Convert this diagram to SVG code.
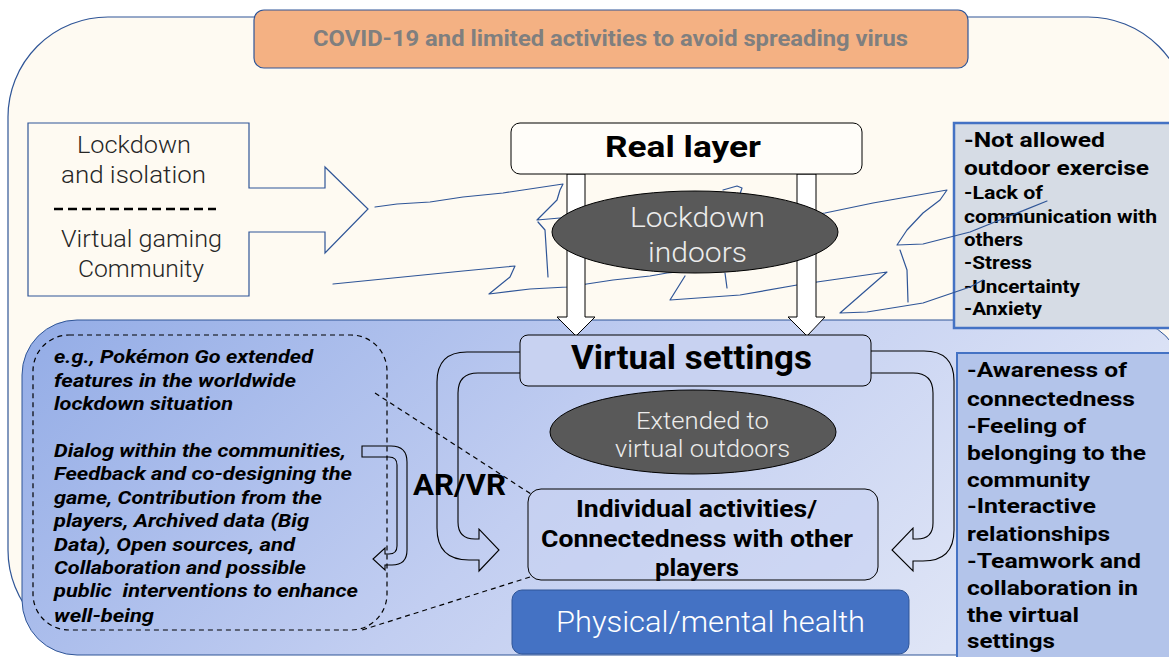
<svg xmlns="http://www.w3.org/2000/svg" width="1169" height="657" viewBox="0 0 1169 657">
<style>
text{font-family:Roboto,"Noto Sans CJK JP",sans-serif;}
.b{font-weight:700;fill:#000;}
.l{font-weight:300;}
.it{font-weight:700;font-style:italic;fill:#000;font-size:19px;}
.c{text-anchor:middle;}
.scr{fill:none;stroke:#2f5597;stroke-width:1.2;stroke-linejoin:round;stroke-linecap:round;}
.blk{fill:#fff;stroke:#000;stroke-width:1;}
.uarr{fill:none;stroke:#000;stroke-width:1.1;}
.dash{fill:none;stroke:#000;stroke-width:1.2;stroke-dasharray:5,4;}
.box{stroke:#000;stroke-width:1;}
</style>
<defs>
<linearGradient id="blueGrad" x1="0" y1="0" x2="1" y2="0.3">
<stop offset="0" stop-color="#93ace6"/>
<stop offset="0.55" stop-color="#c2cef1"/>
<stop offset="1" stop-color="#dfe5f6"/>
</linearGradient>
</defs>
<g id="background">
<rect x="8" y="17" width="1180" height="633" rx="100" ry="100" fill="#fefaf2" stroke="#2f5597" stroke-width="1.2"/>
<rect x="22" y="320" width="1160" height="335" rx="55" ry="55" fill="url(#blueGrad)" stroke="#2f5597" stroke-width="1"/>
</g>
<g id="banner">
<rect x="254" y="10" width="714" height="58" rx="10" fill="#f4b183" stroke="#2f5597" stroke-width="1.2"/>
<text x="610.5" y="46" class="c" font-size="22" font-weight="700" fill="#7f7f7f" textLength="595" lengthAdjust="spacingAndGlyphs">COVID-19 and limited activities to avoid spreading virus</text>
</g>
<g id="left-box">
<path d="M28,123 L249,123 L249,188 L325,188 L325,167 L368,209 L325,253 L325,232 L249,232 L249,296 L28,296 Z" fill="#fefaf2" stroke="#2f5597" stroke-width="1.2"/>
<text class="l c" x="134" y="153" font-size="23" fill="#262626" textLength="114" lengthAdjust="spacingAndGlyphs">Lockdown</text>
<text class="l c" x="133.5" y="183" font-size="23" fill="#262626" textLength="145" lengthAdjust="spacingAndGlyphs">and isolation</text>
<line x1="54" y1="209" x2="216" y2="209" stroke="#000" stroke-width="2.5" stroke-dasharray="9,5"/>
<text class="l c" x="141.5" y="247" font-size="23" fill="#262626" textLength="161" lengthAdjust="spacingAndGlyphs">Virtual gaming</text>
<text class="l c" x="141" y="277" font-size="23" fill="#262626" textLength="126" lengthAdjust="spacingAndGlyphs">Community</text>
</g>
<g id="right-top-box">
<rect x="954" y="123" width="230" height="205" fill="#d6dce5" stroke="#4472c4" stroke-width="2.5"/>
<text class="b" x="964" y="147" font-size="20" textLength="141" lengthAdjust="spacingAndGlyphs">-Not allowed</text>
<text class="b" x="964" y="175" font-size="20" textLength="185" lengthAdjust="spacingAndGlyphs">outdoor exercise</text>
<text class="b" x="964" y="199" font-size="18" textLength="79" lengthAdjust="spacingAndGlyphs">-Lack of</text>
<text class="b" x="964" y="223" font-size="18" textLength="193" lengthAdjust="spacingAndGlyphs">communication with</text>
<text class="b" x="964" y="246" font-size="18" textLength="59" lengthAdjust="spacingAndGlyphs">others</text>
<text class="b" x="964" y="269" font-size="18" textLength="68" lengthAdjust="spacingAndGlyphs">-Stress</text>
<text class="b" x="964" y="293" font-size="18" textLength="116" lengthAdjust="spacingAndGlyphs">-Uncertainty</text>
<text class="b" x="964" y="315" font-size="18" textLength="78" lengthAdjust="spacingAndGlyphs">-Anxiety</text>
</g>
<g id="right-bottom-box">
<rect x="957" y="353" width="230" height="310" fill="#b3c4ea" stroke="#4472c4" stroke-width="2"/>
<text class="b" x="967" y="377" font-size="20" textLength="160" lengthAdjust="spacingAndGlyphs">-Awareness of</text>
<text class="b" x="967" y="406" font-size="20" textLength="168" lengthAdjust="spacingAndGlyphs">connectedness</text>
<text class="b" x="967" y="433" font-size="20" textLength="119" lengthAdjust="spacingAndGlyphs">-Feeling of</text>
<text class="b" x="967" y="460" font-size="20" textLength="179" lengthAdjust="spacingAndGlyphs">belonging to the</text>
<text class="b" x="967" y="487" font-size="20" textLength="123" lengthAdjust="spacingAndGlyphs">community</text>
<text class="b" x="967" y="513" font-size="20" textLength="129" lengthAdjust="spacingAndGlyphs">-Interactive</text>
<text class="b" x="967" y="541" font-size="20" textLength="143" lengthAdjust="spacingAndGlyphs">relationships</text>
<text class="b" x="967" y="568" font-size="20" textLength="174" lengthAdjust="spacingAndGlyphs">-Teamwork and</text>
<text class="b" x="967" y="595" font-size="20" textLength="171" lengthAdjust="spacingAndGlyphs">collaboration in</text>
<text class="b" x="967" y="622" font-size="20" textLength="112" lengthAdjust="spacingAndGlyphs">the virtual</text>
<text class="b" x="967" y="648" font-size="20" textLength="88" lengthAdjust="spacingAndGlyphs">settings</text>
</g>
<g id="dashed-box">
<rect x="33" y="335" width="354" height="295" rx="36" ry="36" class="dash" stroke-width="1"/>
<text class="it" x="54" y="363" textLength="259" lengthAdjust="spacingAndGlyphs">e.g., Pokémon Go extended</text>
<text class="it" x="54" y="387" textLength="242" lengthAdjust="spacingAndGlyphs">features in the worldwide</text>
<text class="it" x="54" y="410" textLength="179" lengthAdjust="spacingAndGlyphs">lockdown situation</text>
<text class="it" x="54" y="457" textLength="292" lengthAdjust="spacingAndGlyphs">Dialog within the communities,</text>
<text class="it" x="54" y="480" textLength="298" lengthAdjust="spacingAndGlyphs">Feedback and co-designing the</text>
<text class="it" x="54" y="504" textLength="268" lengthAdjust="spacingAndGlyphs">game, Contribution from the</text>
<text class="it" x="54" y="527" textLength="255" lengthAdjust="spacingAndGlyphs">players, Archived data (Big</text>
<text class="it" x="54" y="551" textLength="241" lengthAdjust="spacingAndGlyphs">Data), Open sources, and</text>
<text class="it" x="54" y="574" textLength="252" lengthAdjust="spacingAndGlyphs">Collaboration and possible</text>
<text class="it" x="54" y="597" textLength="304" lengthAdjust="spacingAndGlyphs" xml:space="preserve">public  interventions to enhance</text>
<text class="it" x="54" y="622" textLength="100" lengthAdjust="spacingAndGlyphs">well-being</text>
</g>
<g id="connectors">
<path class="scr" d="M375,207 L397,204 L430,202 L463,197 L503,193 L563,184 L560,190 L557,200 L547,210 L537,220 L560,218 L600,216"/>
<path class="scr" d="M538,222 L545,230 L548,277"/>
<path class="scr" d="M333,284 L363,281 L413,276 L463,271 L515,266 L510,277 L489,294 L530,289 L567,287 L613,280 L650,276 L667,273 L700,270"/>
<path class="scr" d="M685,276 L670,300 L740,295 L797,285 L817,282 L887,272 L840,313 L867,312 L923,303 L970,287 L983,280"/>
<path class="scr" d="M725,273 L727,288"/>
<path class="scr" d="M723,190 L737,186 L742,188 L740,194"/>
<path class="scr" d="M800,216 L825,213 L873,203 L947,190 L940,200 L923,213 L907,230 L897,245 L923,244 L970,232 L1047,201"/>
<path class="scr" d="M900,250 L907,270 L908,302"/>
<path class="blk" d="M567,174 L585,174 L585,317 L595,317 L576,336 L557,317 L567,317 Z"/>
<path class="blk" d="M797,174 L816,174 L816,317 L825,317 L807,336 L788,317 L797,317 Z"/>
<path class="uarr" d="M520,352 L467,352 Q437,352 437,382 L437,528 Q437,560 469,560 L479,560 L479,571 L499,550 L479,529 L479,539 L475,539 Q458,539 458,522 L458,393 Q458,373 478,373 L520,373"/>
<path class="uarr" d="M871,351 L924,351 Q954,351 954,381 L954,530 Q954,561 923,561 L913,561 L913,571 L892,550 L913,528 L913,539 L917,539 Q933,539 933,523 L933,393 Q933,373 913,373 L871,373"/>
<path class="uarr" d="M362,446 L391,446 Q407,446 407,462 L407,550 Q407,565 392,565 L385,565 L385,570 L373,559 L385,548 L385,554 L389,554 Q397,554 397,546 L397,465 Q397,457 389,457 L362,457 Z"/>
<line class="dash" x1="375" y1="393" x2="531" y2="494"/>
<line class="dash" x1="530" y1="577" x2="362" y2="630"/>
</g>
<g id="real-layer">
<rect x="511" y="123" width="351" height="51" rx="9" fill="#fffdf9" class="box"/>
<text class="b c" x="683" y="157" font-size="30" textLength="156" lengthAdjust="spacingAndGlyphs">Real layer</text>
</g>
<g id="lockdown-indoors">
<ellipse cx="695" cy="232" rx="143" ry="41" fill="#595959" stroke="#000" stroke-width="1"/>
<text class="l c" x="697.5" y="227" font-size="27" fill="#ececec" textLength="135" lengthAdjust="spacingAndGlyphs">Lockdown</text>
<text class="l c" x="697.5" y="262" font-size="27" fill="#ececec" textLength="99" lengthAdjust="spacingAndGlyphs">indoors</text>
</g>
<g id="virtual-settings">
<rect x="520" y="335" width="351" height="51" rx="8" fill="#c8d2f1" class="box"/>
<text class="b c" x="691.5" y="369" font-size="33" textLength="241" lengthAdjust="spacingAndGlyphs">Virtual settings</text>
</g>
<g id="extended-virtual">
<ellipse cx="693" cy="432" rx="143" ry="42" fill="#595959" stroke="#000" stroke-width="1"/>
<text class="l c" x="702.5" y="429" font-size="23.5" fill="#ececec" textLength="133" lengthAdjust="spacingAndGlyphs">Extended to</text>
<text class="l c" x="702.5" y="457" font-size="23.5" fill="#ececec" textLength="175" lengthAdjust="spacingAndGlyphs">virtual outdoors</text>
</g>
<g id="individual-activities">
<rect x="528" y="489" width="350" height="91" rx="13" fill="#c8d2f1" fill-opacity="0.6" class="box"/>
<text class="b c" x="696.5" y="517" font-size="23" textLength="241" lengthAdjust="spacingAndGlyphs">Individual activities/</text>
<text class="b c" x="697" y="547" font-size="23" textLength="312" lengthAdjust="spacingAndGlyphs">Connectedness with other</text>
<text class="b c" x="697" y="576" font-size="23" textLength="84" lengthAdjust="spacingAndGlyphs">players</text>
</g>
<g id="physical-mental-health">
<rect x="512" y="590" width="397" height="64" rx="10" fill="#4472c4" stroke="#2f5597" stroke-width="1"/>
<text class="l c" x="710.5" y="632" font-size="30" fill="#fff" textLength="309" lengthAdjust="spacingAndGlyphs">Physical/mental health</text>
</g>
<g id="ar-vr">
<text class="b" x="413" y="495" font-size="29" textLength="93" lengthAdjust="spacingAndGlyphs">AR/VR</text>
</g>
</svg>
